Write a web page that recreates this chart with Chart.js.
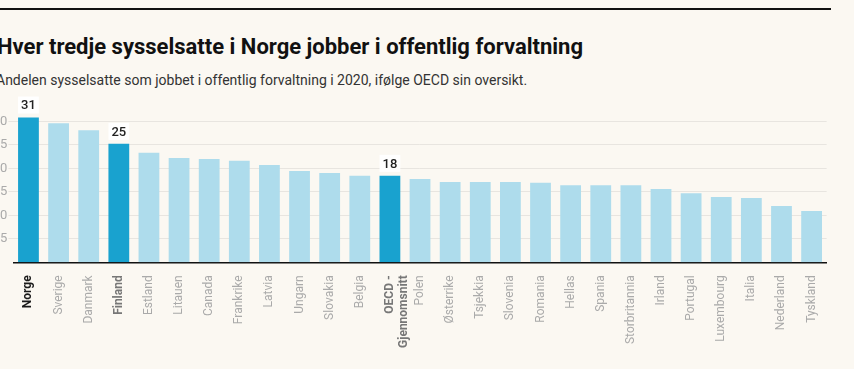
<!DOCTYPE html>
<html>
<head>
<meta charset="utf-8">
<script src="https://cdn.jsdelivr.net/npm/chart.js@4"></script>
<style>
  body { margin: 0; background: #fbf8f2; width: 854px; height: 369px; overflow: hidden; position: relative; font-family: Roboto, sans-serif; }
  #topline { position: absolute; left: 0; top: 8px; width: 831px; height: 2px; background: #111; }
  #title { position: absolute; left: -3px; top: 34px; font-size: 22px; font-weight: 700; color: #111; white-space: nowrap; }
  #sub { position: absolute; left: -4px; top: 72px; font-size: 14px; color: #333; white-space: nowrap; }
  #wrap { position: absolute; left: -40px; top: 0; width: 871px; height: 369px; }
</style>
</head>
<body>
<div id="topline"></div>
<div id="title">Hver tredje sysselsatte i Norge jobber i offentlig forvaltning</div>
<div id="sub">Andelen sysselsatte som jobbet i offentlig forvaltning i 2020, ifølge OECD sin oversikt.</div>
<div id="wrap"><canvas id="graph1"></canvas></div>
<script>
const land = ['Norge', 'Sverige', 'Danmark', 'Finland', 'Estland', 'Litauen', 'Canada', 'Frankrike', 'Latvia', 'Ungarn',
  'Slovakia', 'Belgia', ['OECD -', 'Gjennomsnitt'], 'Polen', 'Østerrike', 'Tsjekkia', 'Slovenia', 'Romania', 'Hellas',
  'Spania', 'Storbritannia', 'Irland', 'Portugal', 'Luxembourg', 'Italia', 'Nederland', 'Tyskland'];
const andel = [30.8, 29.6, 28.1, 25.2, 23.3, 22.2, 22.0, 21.6, 20.7, 19.4,
  19.0, 18.4, 18.4, 17.7, 17.1, 17.1, 17.1, 16.9, 16.4,
  16.4, 16.4, 15.6, 14.7, 13.9, 13.7, 12.0, 10.9];
const uthevet = [0, 3, 12];
const etiketter = {0: '31', 3: '25', 12: '18'};
const yTicks = [5, 10, 15, 20, 25, 30];

const farger = andel.map((v, i) => uthevet.includes(i) ? '#19a2cf' : '#aedcec');

const verdiEtiketter = {
  id: 'verdiEtiketter',
  afterDatasetsDraw(chart) {
    const ctx = chart.ctx;
    const meta = chart.getDatasetMeta(0);
    ctx.save();
    ctx.font = '500 13px Roboto';
    ctx.textAlign = 'center';
    ctx.textBaseline = 'middle';
    Object.keys(etiketter).forEach(k => {
      const bar = meta.data[k];
      const txt = etiketter[k];
      const y = bar.y - 12;
      const w = ctx.measureText(txt).width + 6;
      ctx.fillStyle = '#ffffff';
      ctx.fillRect(bar.x - w / 2, y - 9, w, 17);
      ctx.fillStyle = '#222';
      ctx.fillText(txt, bar.x, y + 0.5);
    });
    ctx.restore();
  }
};

new Chart(document.querySelector('#graph1'), {
  type: 'bar',
  data: {
    labels: land,
    datasets: [{
      data: andel,
      backgroundColor: farger,
      barPercentage: 0.69,
      categoryPercentage: 1
    }]
  },
  options: {
    responsive: true,
    maintainAspectRatio: false,
    animation: false,
    layout: { padding: { top: 116.6, right: 0, left: 0, bottom: 0 } },
    plugins: { legend: { display: false }, tooltip: { enabled: false } },
    scales: {
      x: {
        grid: { display: false },
        border: { color: '#111', width: 1.5 },
        ticks: {
          minRotation: 90, maxRotation: 90, autoSkip: false, padding: 5,
          font: ctx => ({ family: 'Roboto', size: 12, weight: uthevet.includes(ctx.index) ? 'bold' : 'normal' }),
          color: ctx => ctx.index === 0 ? '#1a1a1a' : (uthevet.includes(ctx.index) ? '#777' : '#aaa')
        },
        afterFit(scale) { scale.height = 106.7; }
      },
      y: {
        min: 0, max: 31,
        border: { display: false },
        grid: { color: '#e8e5e0', lineWidth: 1, tickLength: 5 },
        ticks: { padding: 1, color: '#aaa', font: { family: 'Roboto', size: 13 } },
        afterBuildTicks(scale) { scale.ticks = yTicks.map(v => ({ value: v })); },
        afterFit(scale) { scale.width = 53.4; }
      }
    }
  },
  plugins: [verdiEtiketter]
});
</script>
</body>
</html>
